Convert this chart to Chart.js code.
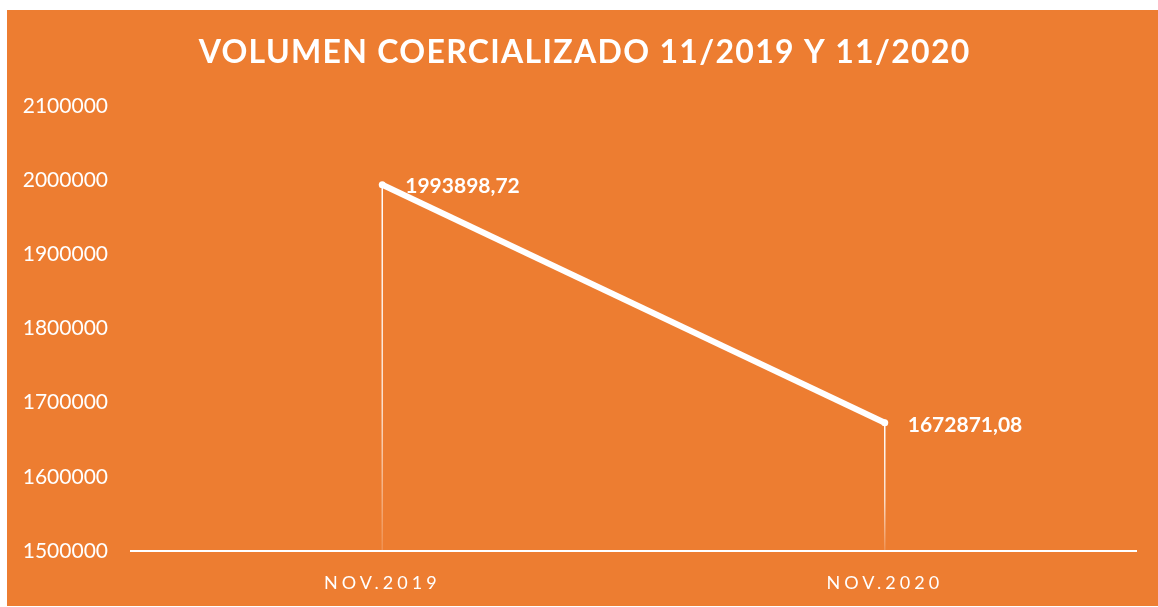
<!DOCTYPE html>
<html>
<head>
<meta charset="utf-8">
<script src="https://cdn.jsdelivr.net/npm/chart.js@4/dist/chart.umd.min.js"></script>
<style>
  html,body{margin:0;padding:0;background:#fff;}
  canvas{display:block;}
</style>
</head>
<body>
<canvas id="grafico" width="1158" height="607"></canvas>
<script>
// Datos
const titulo="VOLUMEN COERCIALIZADO 11/2019 Y 11/2020";
const categorias=["NOV.2019","NOV.2020"];
const volumen=[1993898.72,1672871.08];
const etiquetas=["1993898,72","1672871,08"];
const yMin=1500000, yMax=2100000, yPaso=100000;

const naranja="#ED7D31";
const fuente="Lato, 'Open Sans', sans-serif";

// Fondo, titulo y letras espaciadas
const decoracion={
  id:"decoracion",
  beforeDraw(chart){
    const ctx=chart.ctx;
    ctx.save();
    ctx.fillStyle=naranja;
    ctx.fillRect(7,10,chart.width-7,chart.height-11);
    ctx.restore();
    const sx=chart.scales.x;
    if(!sx._espaciado){
      const orig=sx.drawLabels.bind(sx);
      sx.drawLabels=function(area){
        const c=this.ctx;
        c.save();c.letterSpacing="4px";orig(area);c.restore();
      };
      sx._espaciado=true;
    }
  },
  beforeDatasetsDraw(chart){
    // lineas verticales desde cada punto hasta el eje
    const ctx=chart.ctx;
    const meta=chart.getDatasetMeta(0);
    const base=chart.scales.y.getPixelForValue(yMin);
    ctx.save();
    meta.data.forEach(p=>{
      const g=ctx.createLinearGradient(0,p.y,0,base);
      g.addColorStop(0,"rgba(255,255,255,1)");
      g.addColorStop(0.6,"rgba(255,255,255,0.75)");
      g.addColorStop(1,"rgba(255,255,255,0.15)");
      ctx.strokeStyle=g;
      ctx.lineWidth=1.5;
      ctx.beginPath();ctx.moveTo(p.x,p.y);ctx.lineTo(p.x,base);ctx.stroke();
    });
    ctx.restore();
  },
  afterDraw(chart){
    const ctx=chart.ctx;
    // etiquetas de datos
    const meta=chart.getDatasetMeta(0);
    ctx.save();
    ctx.fillStyle="#fff";
    ctx.font="bold 21px "+fuente;
    ctx.textAlign="left";ctx.textBaseline="middle";
    meta.data.forEach((p,i)=>ctx.fillText(etiquetas[i],p.x+23,p.y+2));
    // titulo
    ctx.font="bold 32px "+fuente;
    ctx.letterSpacing="0px";
    const w=ctx.measureText(titulo).width;
    const ls=Math.max(0,(772-w)/titulo.length);
    ctx.letterSpacing=ls+"px";
    ctx.textAlign="center";
    ctx.fillText(titulo,584+ls/2,53);
    ctx.restore();
  }
};

new Chart(document.getElementById("grafico"),{
  type:"line",
  data:{
    labels:categorias,
    datasets:[{
      data:volumen,
      borderColor:"#fff",
      borderWidth:6,
      pointRadius:3.5,
      pointBackgroundColor:"#fff",
      pointBorderColor:"#fff",
      pointBorderWidth:0,
      tension:0
    }]
  },
  options:{
    responsive:false,
    animation:false,
    devicePixelRatio:1,
    layout:{padding:{left:7,right:22,top:106,bottom:1}},
    plugins:{legend:{display:false},tooltip:{enabled:false},title:{display:false}},
    scales:{
      x:{
        offset:true,
        grid:{display:false,drawTicks:false},
        border:{display:true,color:"#fff",width:2},
        ticks:{color:"#fff",font:{family:fuente,size:18},padding:21},
        afterFit(s){s.height=55;}
      },
      y:{
        min:yMin,max:yMax,
        grid:{display:false,drawTicks:false},
        border:{display:false},
        ticks:{stepSize:yPaso,color:"#fff",font:{family:fuente,size:21},padding:23,callback:v=>String(v)},
        afterFit(s){s.width=124;}
      }
    }
  },
  plugins:[decoracion]
});
</script>
</body>
</html>
